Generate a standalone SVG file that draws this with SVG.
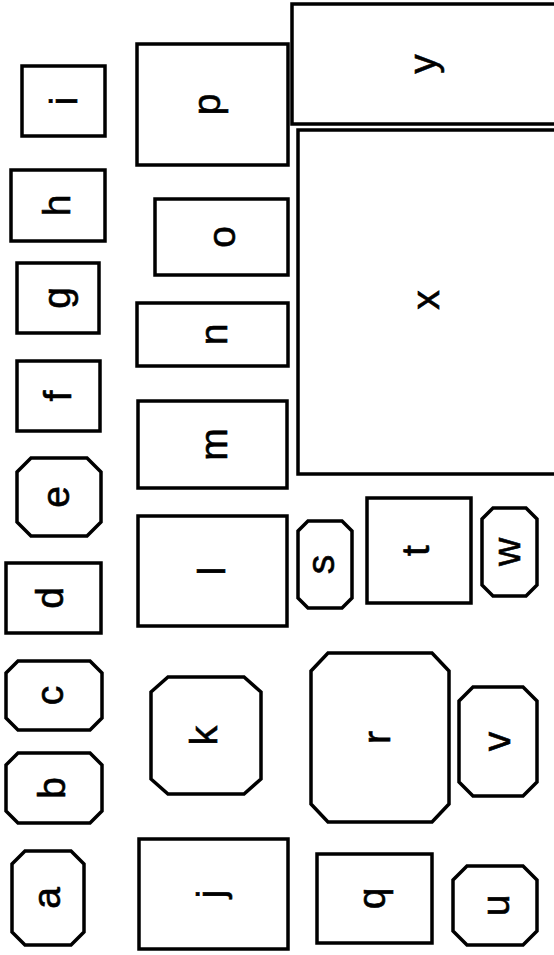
<svg xmlns="http://www.w3.org/2000/svg" width="554" height="955" viewBox="0 0 554 955">
<style>
.s{fill:#fff;stroke:#000;stroke-width:3.5;stroke-linejoin:miter}
.t{font-family:"Liberation Sans",Arial,sans-serif;font-size:39px;fill:#000;stroke:#000;stroke-width:0.6;text-anchor:middle}
</style>
<rect width="554" height="955" fill="#fff"/>
<g id="connectors"></g>
<g id="a"><polygon class="s" points="25,851 71,851 84,864 84,932 71,945 25,945 12,932 12,864"/><text class="t" transform="rotate(-90 60 898)" x="60" y="898">a</text></g>
<g id="b"><polygon class="s" points="18,753 90,753 102,765 102,811 90,823 18,823 6,811 6,765"/><text class="t" transform="rotate(-90 65 788)" x="65" y="788">b</text></g>
<g id="c"><polygon class="s" points="18,661 90,661 102,673 102,718 90,730 18,730 6,718 6,673"/><text class="t" transform="rotate(-90 63 695.5)" x="63" y="695.5">c</text></g>
<g id="d"><rect class="s" x="6" y="563" width="95" height="70"/><text class="t" transform="rotate(-90 63 598)" x="63" y="598">d</text></g>
<g id="e"><polygon class="s" points="31,458 87,458 101,472 101,522 87,536 31,536 17,522 17,472"/><text class="t" transform="rotate(-90 69 497)" x="69" y="497">e</text></g>
<g id="f"><rect class="s" x="17" y="361" width="83" height="70"/><text class="t" transform="rotate(-90 71 396)" x="71" y="396">f</text></g>
<g id="g"><rect class="s" x="17" y="263" width="82" height="70"/><text class="t" transform="rotate(-90 70 298)" x="70" y="298">g</text></g>
<g id="h"><rect class="s" x="11" y="170" width="94" height="71"/><text class="t" transform="rotate(-90 70 205.5)" x="70" y="205.5">h</text></g>
<g id="i"><rect class="s" x="22" y="66" width="83" height="70"/><text class="t" transform="rotate(-90 77 101)" x="77" y="101">i</text></g>
<g id="j"><rect class="s" x="139" y="839" width="149" height="110"/><text class="t" transform="rotate(-90 224 894)" x="224" y="894">j</text></g>
<g id="k"><polygon class="s" points="168,677 244,677 261,692 261,779 244,794 168,794 151,779 151,692"/><text class="t" transform="rotate(-90 217 735.5)" x="217" y="735.5">k</text></g>
<g id="l"><rect class="s" x="138" y="516" width="149" height="110"/><text class="t" transform="rotate(-90 225 571)" x="225" y="571">l</text></g>
<g id="m"><rect class="s" x="138" y="401" width="149" height="87"/><text class="t" transform="rotate(-90 227 444.5)" x="227" y="444.5">m</text></g>
<g id="n"><rect class="s" x="137" y="303" width="151" height="63"/><text class="t" transform="rotate(-90 227 334.5)" x="227" y="334.5">n</text></g>
<g id="o"><rect class="s" x="155" y="199" width="133" height="76"/><text class="t" transform="rotate(-90 235 237)" x="235" y="237">o</text></g>
<g id="p"><rect class="s" x="137" y="44" width="151" height="121"/><text class="t" transform="rotate(-90 220 104.5)" x="220" y="104.5">p</text></g>
<g id="q"><rect class="s" x="317" y="854" width="115" height="89"/><text class="t" transform="rotate(-90 385 898.5)" x="385" y="898.5">q</text></g>
<g id="r"><polygon class="s" points="328,653 432,653 449,671 449,804 432,822 328,822 311,804 311,671"/><text class="t" transform="rotate(-90 390 737.5)" x="390" y="737.5">r</text></g>
<g id="s"><polygon class="s" points="308,521 342,521 352,531 352,598 342,608 308,608 298,598 298,531"/><text class="t" transform="rotate(-90 334 564.5)" x="334" y="564.5">s</text></g>
<g id="t"><rect class="s" x="367" y="498" width="104" height="105"/><text class="t" transform="rotate(-90 429 550.5)" x="429" y="550.5">t</text></g>
<g id="u"><polygon class="s" points="467,866 523,866 537,880 537,931 523,945 467,945 453,931 453,880"/><text class="t" transform="rotate(-90 509 905.5)" x="509" y="905.5">u</text></g>
<g id="v"><polygon class="s" points="473,687 523,687 537,701 537,782 523,796 473,796 459,782 459,701"/><text class="t" transform="rotate(-90 510 741.5)" x="510" y="741.5">v</text></g>
<g id="w"><polygon class="s" points="493,508 526,508 537,519 537,585 526,596 493,596 482,585 482,519"/><text class="t" transform="rotate(-90 520 552)" x="520" y="552">w</text></g>
<g id="x"><rect class="s" x="298" y="130" width="262" height="344"/><text class="t" transform="rotate(-90 439 300)" x="439" y="300">x</text></g>
<g id="y"><rect class="s" x="292" y="4" width="268" height="120"/><text class="t" transform="rotate(-90 436 64)" x="436" y="64">y</text></g>
</svg>
